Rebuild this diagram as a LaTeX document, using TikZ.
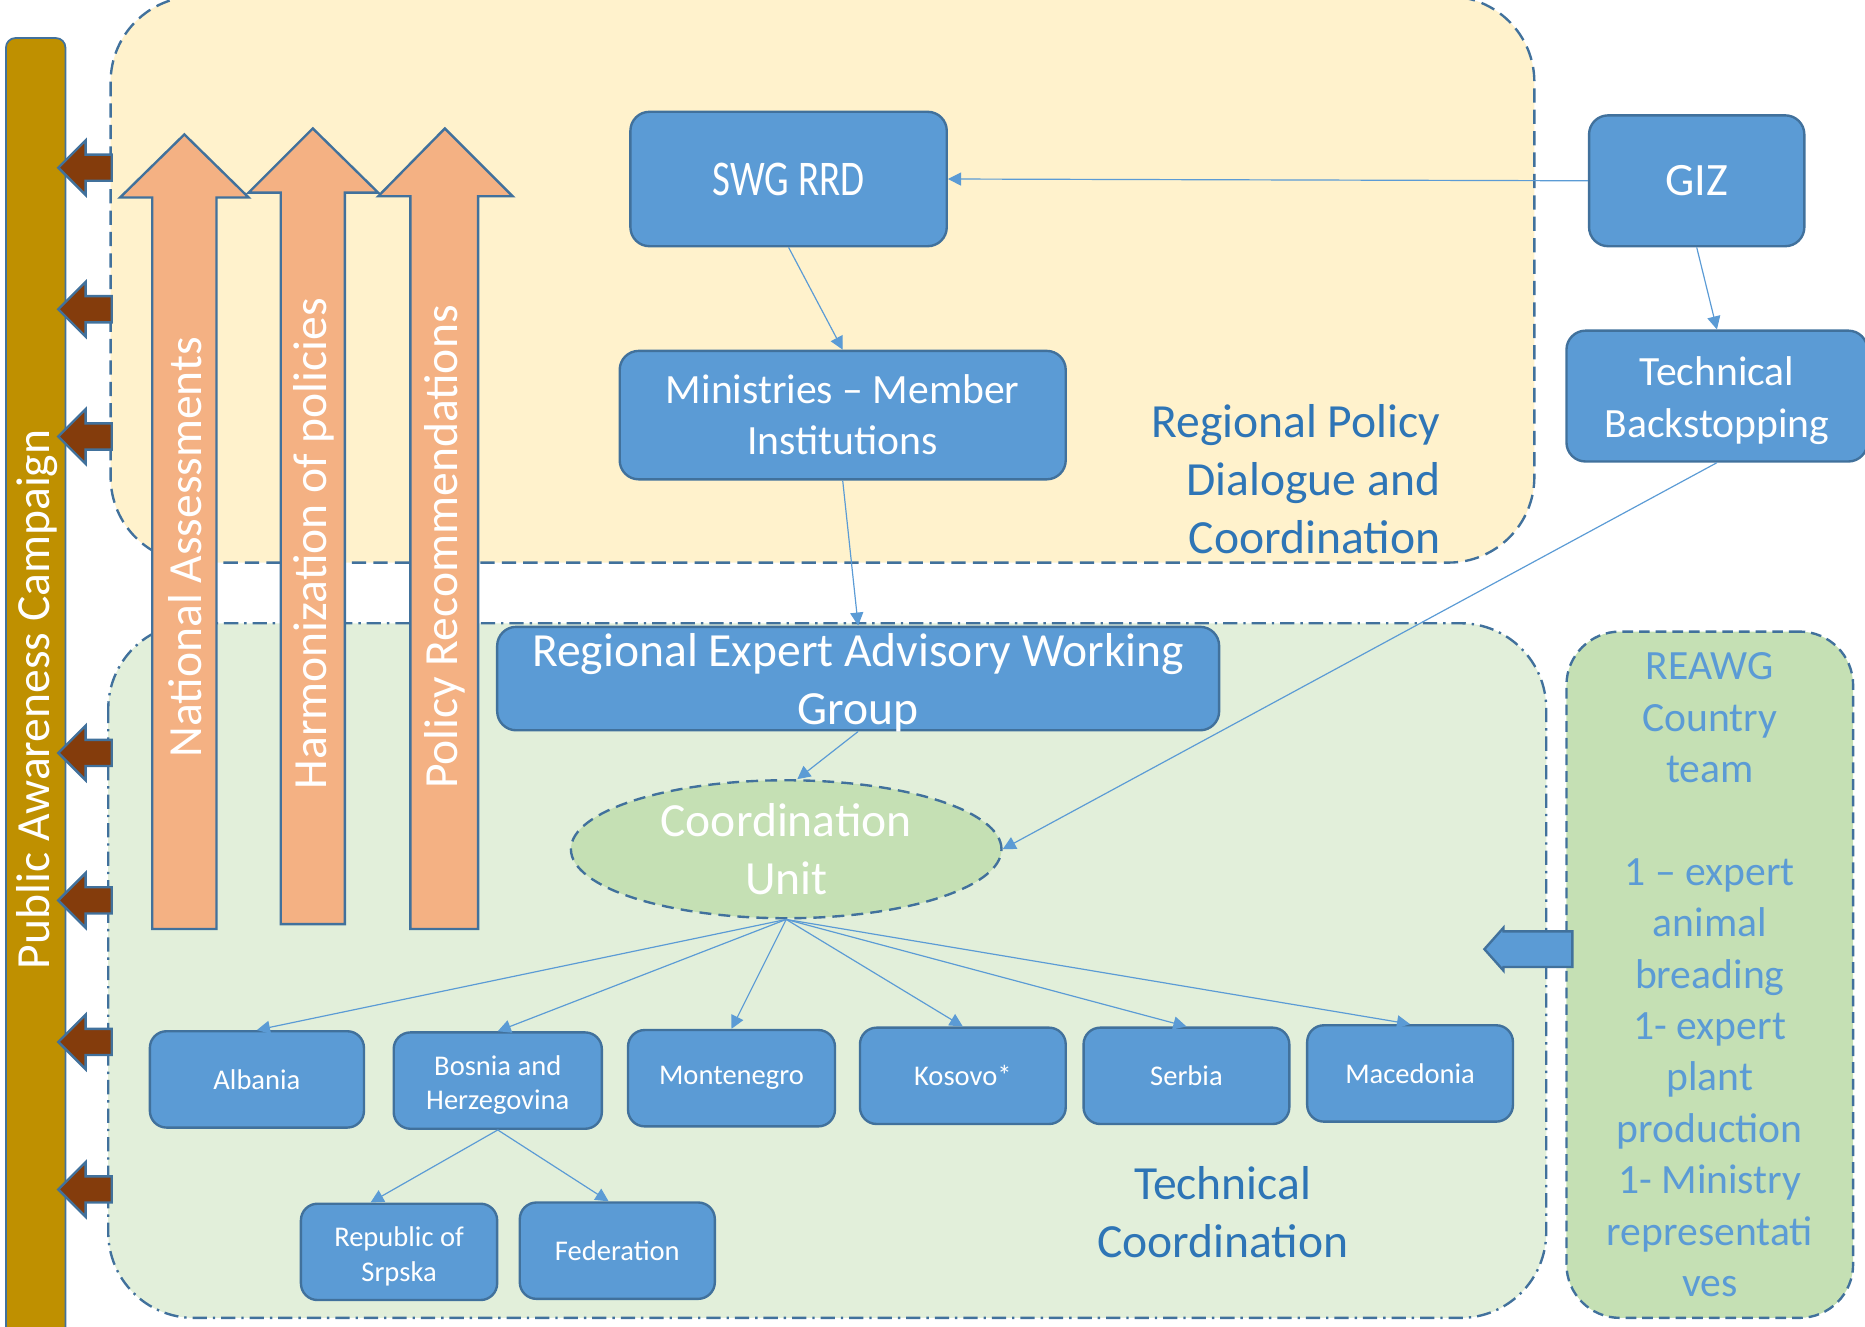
\documentclass[tikz,border=0pt]{standalone}
\usepackage{fontspec}
\setmainfont{Carlito}
\newfontfamily\condfont[FakeStretch=0.78]{Carlito}
\usetikzlibrary{arrows.meta,shapes.geometric}

\definecolor{boxblue}{RGB}{91,155,213}
\definecolor{edgeblue}{RGB}{65,113,156}
\definecolor{paleyellow}{RGB}{255,242,204}
\definecolor{palegreen}{RGB}{226,239,218}
\definecolor{midgreen}{RGB}{197,224,180}
\definecolor{peach}{RGB}{244,177,131}
\definecolor{rust}{RGB}{132,60,12}
\definecolor{gold}{RGB}{191,144,0}
\definecolor{titleblue}{RGB}{46,117,182}

\begin{document}
\begin{tikzpicture}[x=1pt,y=1pt,yscale=-1,
  bluebox/.style={draw=edgeblue,fill=boxblue,line width=2pt,rounded corners=16pt,text=white,align=center,inner sep=0pt},
  cbox/.style={bluebox,rounded corners=14pt,minimum height=81pt,font=\fontsize{24}{29}\selectfont},
  subbox/.style={bluebox,font=\fontsize{35}{43}\selectfont},
  bigtxt/.style={text=white,align=center,inner sep=0pt,font=\fontsize{40}{48.5}\selectfont},
  titletxt/.style={text=titleblue,inner sep=0pt,font=\fontsize{40}{48.5}\selectfont},
  peacharrow/.style={draw=edgeblue,fill=peach,line width=2pt,line join=miter},
  rustarrow/.style={draw=edgeblue,fill=rust,line width=2pt,line join=miter},
  link/.style={draw=boxblue,line width=1pt,-{Triangle[length=11pt,width=11pt]}}]
\path[use as bounding box] (0,0) rectangle (1568,1115);
\clip (0,0) rectangle (1568,1115);

%Shape: Rounded Rect (campaign bar)
\draw [draw=edgeblue,fill=gold,line width=1.5pt,rounded corners=8pt] (5,32) rectangle (55,1130);

%Shape: Rounded Rect (policy dialogue area)
\draw [draw=edgeblue,fill=paleyellow,line width=2pt,dash pattern=on 12pt off 6pt,rounded corners=72pt] (93,-3) rectangle (1290,473);
%Shape: Rounded Rect (technical coordination area)
\draw [draw=edgeblue,fill=palegreen,line width=2pt,dash pattern=on 12pt off 5pt on 2pt off 5pt,rounded corners=72pt] (91,524) rectangle (1300,1108);

%Shape: Left Arrows
\draw [rustarrow] (94,130) -- (72,130) -- (72,118) -- (49,141) -- (72,164) -- (72,152) -- (94,152) -- cycle ;
\draw [rustarrow] (94,249) -- (72,249) -- (72,237) -- (49,260) -- (72,283) -- (72,271) -- (94,271) -- cycle ;
\draw [rustarrow] (94,356) -- (72,356) -- (72,344) -- (49,367) -- (72,390) -- (72,378) -- (94,378) -- cycle ;
\draw [rustarrow] (94,622) -- (72,622) -- (72,610) -- (49,633) -- (72,656) -- (72,644) -- (94,644) -- cycle ;
\draw [rustarrow] (94,746) -- (72,746) -- (72,734) -- (49,757) -- (72,780) -- (72,768) -- (94,768) -- cycle ;
\draw [rustarrow] (94,865) -- (72,865) -- (72,853) -- (49,876) -- (72,899) -- (72,887) -- (94,887) -- cycle ;
\draw [rustarrow] (94,989) -- (72,989) -- (72,977) -- (49,1000) -- (72,1023) -- (72,1011) -- (94,1011) -- cycle ;

%Shape: Up Arrows
\draw [peacharrow] (128,781) -- (128,166) -- (101,166) -- (155,113) -- (209,166) -- (182,166) -- (182,781) -- cycle ;
\draw [peacharrow] (236,777) -- (236,162) -- (209,162) -- (263,108) -- (318,162) -- (290,162) -- (290,777) -- cycle ;
\draw [peacharrow] (345,781) -- (345,165) -- (318,165) -- (374,108) -- (431,165) -- (402,165) -- (402,781) -- cycle ;

%Shape: Rounded Rect (country team)
\node (team) at (1437.5,819.5) [draw=edgeblue,fill=midgreen,line width=2pt,dash pattern=on 9pt off 5pt,rounded corners=45pt,minimum width=241pt,minimum height=577pt,inner sep=0pt,align=center,text=boxblue,font=\fontsize{35}{43.2}\selectfont] {REAWG\\Country\\team\\[43.2pt]1 -- expert\\animal\\breading\\1- expert\\plant\\production\\1- Ministry\\representati\\ves};

%Shape: Left Arrow (team to coordination)
\draw [draw=edgeblue,fill=boxblue,line width=2pt,line join=miter] (1322,783) -- (1264,783) -- (1264,780) -- (1248,798) -- (1264,816) -- (1264,813) -- (1322,813) -- cycle ;

%Boxes
\node (swg) at (663,150.5) [bluebox,minimum width=266pt,minimum height=113pt,font=\condfont\fontsize{42}{50}\selectfont] {SWG RRD};
\node (giz) at (1426.5,152) [bluebox,minimum width=181pt,minimum height=110pt,font=\fontsize{39}{47}\selectfont] {GIZ};
\node (techbs) at (1443.5,333) [subbox,minimum width=253pt,minimum height=110pt] {\rule{0pt}{32pt}Technical\\Backstopping};
\node (minis) at (708.5,349) [subbox,minimum width=375pt,minimum height=108pt] {Ministries -- Member\\Institutions};
\node (reawg) at (721.5,570.5) [bluebox,minimum width=607pt,minimum height=87pt] {};
\node (coord) at (661,714) [ellipse,draw=edgeblue,fill=midgreen,line width=2pt,dash pattern=on 10pt off 6pt,minimum width=362pt,minimum height=116pt,inner sep=0pt] {};

\node (alb) at (216,907.5) [cbox,minimum width=180pt] {Albania};
\node (bih) at (418.5,908.5) [cbox,minimum width=175pt] {\rule{0pt}{24pt}Bosnia and\\Herzegovina};
\node (mne) at (615,906.5) [cbox,minimum width=174pt] {Montenegro};
\node (kos) at (809.5,904.5) [cbox,minimum width=173pt] {Kosovo*};
\node (srb) at (997.5,904.5) [cbox,minimum width=173pt] {Serbia};
\node (mkd) at (1185.5,902.5) [cbox,minimum width=173pt] {Macedonia};
\node (rs) at (335.5,1052.5) [cbox,minimum width=165pt] {\rule{0pt}{24pt}Republic of\\Srpska};
\node (fed) at (519,1051.5) [cbox,minimum width=164pt] {Federation};

%Straight Lines
\draw [link] (giz.west) -- (swg.east) ;
\draw [link] (swg.south) -- (minis.north) ;
\draw [link] (giz.south) -- (techbs.north) ;
\draw [link] (minis.south) -- (reawg.north) ;
\draw [link] (techbs.south) -- (coord.east) ;
\draw [link] (reawg.south) -- (coord.81) ;
\draw [link] (coord.south) -- (alb.north) ;
\draw [link] (coord.south) -- (bih.north) ;
\draw [link] (coord.south) -- (mne.north) ;
\draw [link] (coord.south) -- (kos.north) ;
\draw [link] (coord.south) -- (srb.north) ;
\draw [link] (coord.south) -- (mkd.north) ;
\draw [link] (bih.south) -- (rs.120) ;
\draw [link] (bih.south) -- (fed.100) ;

% Text Node
\node (reawgtxt) at (721.5,574) [bigtxt] {Regional Expert Advisory Working\\Group};
% Text Node
\node (cutxt) at (661,714) [bigtxt] {Coordination\\Unit};
% Text Node
\node (pac) at (31,588) [bigtxt,rotate=90] {Public Awareness Campaign};
% Text Node
\node (natass) at (156,460) [bigtxt,rotate=90] {National Assessments};
% Text Node
\node (harmpol) at (264,457) [bigtxt,rotate=90] {Harmonization of policies};
% Text Node
\node (polrec) at (374,460) [bigtxt,rotate=90] {Policy Recommendations};
% Text Node
\node (rpdc) at (1211,403) [titletxt,anchor=east,align=right] {Regional Policy\\Dialogue and\\Coordination};
% Text Node
\node (tcoord) at (1028,1019) [titletxt,align=center] {Technical\\Coordination};
\end{tikzpicture}
\end{document}
